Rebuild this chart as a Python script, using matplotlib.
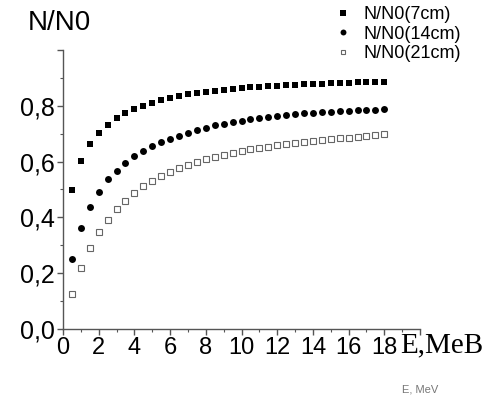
import matplotlib
matplotlib.use('Agg')
import matplotlib.pyplot as plt
from matplotlib.ticker import MultipleLocator

# energy, MeV
E = [0.5, 1.0, 1.5, 2.0, 2.5, 3.0, 3.5, 4.0, 4.5, 5.0, 5.5, 6.0,
     6.5, 7.0, 7.5, 8.0, 8.5, 9.0, 9.5, 10.0, 10.5, 11.0, 11.5, 12.0,
     12.5, 13.0, 13.5, 14.0, 14.5, 15.0, 15.5, 16.0, 16.5, 17.0, 17.5, 18.0]

n7 = [0.500, 0.601, 0.663, 0.702, 0.732, 0.755, 0.773, 0.787, 0.800, 0.811,
      0.820, 0.829, 0.836, 0.841, 0.846, 0.850, 0.854, 0.857, 0.860, 0.863,
      0.866, 0.868, 0.870, 0.872, 0.874, 0.876, 0.877, 0.878, 0.879, 0.880,
      0.881, 0.883, 0.884, 0.885, 0.886, 0.887]

n14 = [0.250, 0.362, 0.438, 0.491, 0.536, 0.566, 0.596, 0.621, 0.638, 0.656,
       0.669, 0.682, 0.693, 0.704, 0.713, 0.721, 0.730, 0.736, 0.742, 0.747,
       0.752, 0.756, 0.760, 0.764, 0.767, 0.770, 0.773, 0.775, 0.777, 0.779,
       0.781, 0.783, 0.784, 0.785, 0.786, 0.787]

n21 = [0.124, 0.218, 0.289, 0.346, 0.390, 0.429, 0.458, 0.488, 0.513, 0.532,
       0.549, 0.564, 0.577, 0.589, 0.599, 0.608, 0.618, 0.625, 0.632, 0.638,
       0.644, 0.649, 0.654, 0.658, 0.662, 0.666, 0.670, 0.673, 0.677, 0.680,
       0.683, 0.686, 0.689, 0.692, 0.695, 0.700]

labels = ['N/N0(7cm)', 'N/N0(14cm)', 'N/N0(21cm)']
yticks = [0.0, 0.2, 0.4, 0.6, 0.8, 1.0]
ytick_labels = ['0,0', '0,2', '0,4', '0,6', '0,8', '']
xticks = [0, 2, 4, 6, 8, 10, 12, 14, 16, 18, 20]
xtick_labels = ['0', '2', '4', '6', '8', '10', '12', '14', '16', '18', '']

plt.rcParams['font.family'] = ['Liberation Sans', 'DejaVu Sans']

fig = plt.figure(figsize=(4.94, 3.98), dpi=100)
ax = fig.add_axes([63/494, 69/398, 357/494, 279/398])

ax.plot(E, n7, ls='none', marker='s', ms=4.4, mew=0, color='black', label=labels[0])
ax.plot(E, n14, ls='none', marker='o', ms=5.0, mew=0, color='black', label=labels[1])
ax.plot(E, n21, ls='none', marker='s', ms=3.8, mfc='white', mec='#666666',
        mew=0.8, label=labels[2])

ax.set_xlim(0, 20)
ax.set_ylim(0, 1.0)
ax.set_xticks(xticks)
ax.set_xticklabels(xtick_labels, fontsize=17)
ax.set_yticks(yticks)
ax.set_yticklabels(ytick_labels, fontsize=18)
ax.xaxis.set_minor_locator(MultipleLocator(1))
ax.yaxis.set_minor_locator(MultipleLocator(0.1))

gray = '#555555'
for s in ['top', 'right']:
    ax.spines[s].set_visible(False)
for s in ['left', 'bottom']:
    ax.spines[s].set_color(gray)
    ax.spines[s].set_linewidth(1.0)
ax.tick_params(which='major', direction='out', length=4, width=1.0, color=gray, pad=2)
ax.tick_params(which='minor', direction='out', length=2.5, width=0.8, color=gray)

ax.text(21.2, -0.085, 'E,MeB', family=['Liberation Serif', 'DejaVu Serif'],
        fontsize=21, ha='center', va='baseline', clip_on=False)

fig.text(28/494, 1 - 23/398, 'N/N0', fontsize=20, ha='left', va='center')
fig.text(420/494, 1 - 390/398, 'E, MeV', fontsize=8, color='#777777',
         ha='center', va='center')

ax.legend(loc='upper left', bbox_to_anchor=(336/494, 1 - 6/398),
          bbox_transform=fig.transFigure, frameon=False, fontsize=13,
          borderpad=0, handlelength=0.8, handletextpad=0.75, labelspacing=0.15,
          markerscale=0.85, borderaxespad=0)

fig.savefig('out.png', dpi=100)
